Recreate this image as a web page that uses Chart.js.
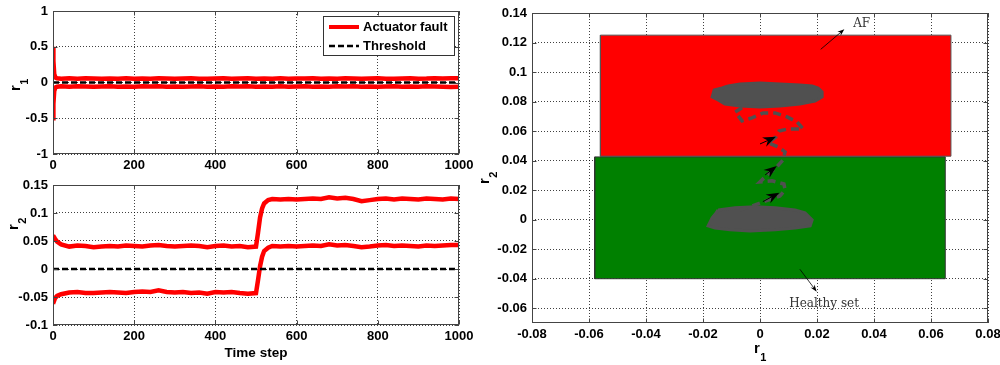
<!DOCTYPE html>
<html><head><meta charset="utf-8">
<script src="https://cdn.jsdelivr.net/npm/chart.js@4.4.0/dist/chart.umd.min.js"></script>
<style>
html,body{margin:0;padding:0;background:#fff;width:1000px;height:365px;overflow:hidden;}
canvas{position:absolute;}
</style></head><body>
<canvas id="c1" width="480" height="175" style="left:0px;top:0px"></canvas>
<canvas id="c2" width="480" height="190" style="left:0px;top:175px"></canvas>
<canvas id="c3" width="530" height="365" style="left:470px;top:0px"></canvas>
<script>
// ---------------- DATA ----------------
const seriesNames = ['Actuator fault', 'Threshold'];
const timeTitle = 'Time step';
const r1Label = ['r', '1'];
const r2Label = ['r', '2'];
const timeTicks = [0, 200, 400, 600, 800, 1000];
const r1Ticks = [-1, -0.5, 0, 0.5, 1];
const r2Ticks = [-0.1, -0.05, 0, 0.05, 0.1, 0.15];

const t1 = [0,1,3,6,10,20,40,60,80,100,120,140,160,180,200,220,240,260,280,300,320,340,360,380,400,420,440,460,480,500,520,540,560,580,600,620,640,660,680,700,720,740,760,780,800,820,840,860,880,900,920,940,960,980,1000];
const r1Upper = [0.50,0.30,0.12,0.07,0.06,
 0.052,0.058,0.054,0.060,0.055,0.051,0.057,0.054,0.059,0.052,
 0.056,0.053,0.058,0.055,0.051,0.057,0.060,0.054,0.052,0.056,
 0.058,0.053,0.055,0.059,0.052,0.056,0.054,0.058,0.053,0.057,
 0.055,0.060,0.052,0.056,0.054,0.058,0.055,0.053,0.057,0.059,
 0.054,0.052,0.056,0.058,0.053,0.055,0.060,0.057,0.061,0.058];
const r1Lower = [-0.50,-0.30,-0.12,-0.07,-0.06,
 -0.054,-0.059,-0.052,-0.057,-0.061,-0.055,-0.053,-0.058,-0.056,-0.060,
 -0.054,-0.057,-0.052,-0.059,-0.055,-0.061,-0.056,-0.053,-0.058,-0.055,
 -0.060,-0.054,-0.057,-0.052,-0.058,-0.056,-0.061,-0.054,-0.059,-0.055,
 -0.053,-0.058,-0.056,-0.060,-0.054,-0.057,-0.052,-0.059,-0.055,-0.061,
 -0.056,-0.053,-0.058,-0.055,-0.060,-0.054,-0.057,-0.059,-0.062,-0.058];

const t2 = [0,5,10,20,40,60,80,100,120,140,160,180,200,220,240,260,280,300,320,340,360,380,400,420,440,460,480,500,505,510,515,520,530,540,560,580,600,620,640,660,680,700,720,740,760,780,800,820,840,860,880,900,920,940,960,980,1000];
const r2Upper = [0.060,0.054,0.049,0.044,
 0.040,0.042,0.041,0.039,0.040,0.041,0.040,0.042,0.041,0.040,0.042,0.043,0.041,0.040,0.041,0.042,0.041,0.039,0.041,0.042,0.040,0.041,0.039,
 0.040,0.065,0.092,0.108,0.117,0.123,
 0.125,0.124,0.125,0.124,0.125,0.126,0.125,0.128,0.126,0.127,0.125,0.121,0.123,0.125,0.126,0.124,0.126,0.125,0.124,0.126,0.125,0.124,0.126,0.125];
const r2Lower = [-0.062,-0.052,-0.048,-0.045,
 -0.042,-0.041,-0.043,-0.043,-0.042,-0.041,-0.042,-0.043,-0.041,-0.040,-0.041,-0.038,-0.041,-0.042,-0.041,-0.043,-0.042,-0.044,-0.041,-0.042,-0.041,-0.043,-0.044,
 -0.043,-0.020,0.005,0.022,0.032,0.038,
 0.041,0.040,0.041,0.040,0.041,0.042,0.041,0.044,0.042,0.043,0.041,0.039,0.040,0.042,0.043,0.041,0.042,0.041,0.040,0.042,0.041,0.042,0.043,0.043];
const thresholdT = [0, 1000];
const thresholdV = [0, 0];

// right plot
const planeXTicks = [-0.08,-0.06,-0.04,-0.02,0,0.02,0.04,0.06,0.08];
const planeYTicks = [-0.06,-0.04,-0.02,0,0.02,0.04,0.06,0.08,0.1,0.12,0.14];
const afSetR1 = [-0.056, 0.067];
const afSetR2 = [0.043, 0.125];
const healthySetR1 = [-0.058, 0.065];
const healthySetR2 = [-0.040, 0.0425];
const upperBlobR1 = [-0.0112,-0.0070,0.0000,0.0070,0.0140,0.0183,0.0204,0.0218,0.0218,0.0193,0.0140,0.0070,0.0000,-0.0070,-0.0123,-0.0147,-0.0168,-0.0161,-0.0133];
const upperBlobR2 = [0.0906,0.0919,0.0926,0.0919,0.0913,0.0906,0.0892,0.0865,0.0831,0.0804,0.0784,0.0770,0.0764,0.0770,0.0784,0.0811,0.0831,0.0879,0.0892];
const lowerBlobR1 = [-0.0147,-0.0088,-0.0017,0.0053,0.0123,0.0158,0.0183,0.0176,0.0123,0.0053,-0.0035,-0.0105,-0.0158,-0.0182,-0.0168,-0.0154];
const lowerBlobR2 = [0.0066,0.0080,0.0087,0.0080,0.0066,0.0046,-0.0001,-0.0042,-0.0056,-0.0069,-0.0076,-0.0069,-0.0056,-0.0042,0.0012,0.0046];
const pathR1 = [-0.0070,-0.0028,0.0021,0.0070,0.0088,0.0084,0.0042,0.0000,0.0025,0.0056,0.0081,0.0088,0.0063,0.0028,0.0056,0.0067,0.0098,0.0151,0.0130,0.0095,0.0053,0.0011,-0.0028,-0.0063,-0.0087,-0.0052];
const pathR2 = [0.0066,0.0093,0.0127,0.0161,0.0202,0.0242,0.0263,0.0256,0.0303,0.0351,0.0405,0.0459,0.0493,0.0520,0.0561,0.0601,0.0615,0.0615,0.0662,0.0696,0.0723,0.0723,0.0689,0.0669,0.0730,0.0770];
// trajectory arrows: [fromR1, fromR2, toR1, toR2]
const pathArrows = [[0.0000,0.0513,0.0056,0.0561],[0.0018,0.0303,0.0059,0.0364],[0.0010,0.0122,0.0068,0.0183]];
// annotation arrows & texts
const annotArrows = [[0.0213,0.1154,0.0296,0.1290],[0.0140,-0.0336,0.0199,-0.0488]];
const annotTexts = ['AF', 'Healthy set'];
const annotTextR1 = [0.0327, 0.0225];
const annotTextR2 = [0.1326, -0.0570];
const annotAlign = ['left', 'center'];

// ---------------- HELPERS ----------------
const FAM = "'Liberation Sans', Arial, sans-serif";
const tickFont = {family: FAM, size: 13, weight: 'bold'};
const titleFont = {family: FAM, size: 13.5, weight: 'bold'};
const pts = (xs, ys) => xs.map((x, i) => ({x, y: ys[i]}));
const rectPts = (xr, yr) => [{x:xr[0],y:yr[0]},{x:xr[1],y:yr[0]},{x:xr[1],y:yr[1]},{x:xr[0],y:yr[1]},{x:xr[0],y:yr[0]}];
const closed = (xs, ys) => { const p = pts(xs, ys); p.push({x: xs[0], y: ys[0]}); return p; };
const fmt = v => String(Math.round(v * 1000) / 1000);
const gridCfg = {color: 'rgba(0,0,0,0.75)', lineWidth: 1, drawTicks: false};
const borderCfg = {display: false, dash: [1, 2]};

function axis(min, max, tickVals, fixed, isX, titleText, titlePad) {
  return {
    type: 'linear', min, max,
    grid: gridCfg, border: borderCfg,
    afterBuildTicks: s => { s.ticks = tickVals.map(v => ({value: v})); },
    afterFit: s => { if (isX) s.height = fixed; else s.width = fixed; s.paddingLeft = 0; s.paddingRight = 0; s.paddingTop = 0; s.paddingBottom = 0; },
    ticks: {font: tickFont, color: '#000', padding: isX ? 4 : 5, maxRotation: 0, autoSkip: false, callback: v => fmt(v)},
    title: {display: !!titleText, text: titleText || '', font: titleFont, color: '#000', padding: titlePad || 0}
  };
}

const frame = {
  id: 'frame',
  afterDatasetsDraw(chart) {
    const {ctx, chartArea: a, scales} = chart;
    ctx.save();
    ctx.strokeStyle = '#444'; ctx.lineWidth = 1;
    const L = Math.round(a.left) + 0.5, T = Math.round(a.top) + 0.5, R = Math.round(a.right) - 0.5, B = Math.round(a.bottom) - 0.5;
    ctx.strokeRect(L, T, R - L, B - T);
    ctx.beginPath();
    scales.x.ticks.forEach(t => { const p = Math.round(scales.x.getPixelForValue(t.value)) + 0.5; ctx.moveTo(p, B); ctx.lineTo(p, B - 4); ctx.moveTo(p, T); ctx.lineTo(p, T + 4); });
    scales.y.ticks.forEach(t => { const p = Math.round(scales.y.getPixelForValue(t.value)) + 0.5; ctx.moveTo(L, p); ctx.lineTo(L + 4, p); ctx.moveTo(R, p); ctx.lineTo(R - 4, p); });
    ctx.stroke();
    ctx.restore();
  }
};

// subscripted axis labels ("r" + subscript digit), MATLAB style
const subLabels = {
  id: 'subLabels',
  afterDraw(chart, args, opts) {
    const {ctx} = chart;
    (opts.items || []).forEach(it => {
      ctx.save();
      ctx.translate(it.x, it.y);
      if (it.rot) ctx.rotate(-Math.PI / 2);
      ctx.fillStyle = '#000'; ctx.textBaseline = 'alphabetic'; ctx.textAlign = 'left';
      ctx.font = 'bold 15px ' + FAM;
      ctx.fillText(it.text[0], 0, 0);
      const w = ctx.measureText(it.text[0]).width;
      ctx.font = 'bold 11px ' + FAM;
      ctx.fillText(it.text[1], w + 0.5, 8);
      ctx.restore();
    });
  }
};

const legendBox = {
  id: 'legendBox',
  afterDraw(chart) {
    const {ctx, chartArea: a} = chart;
    const x = Math.round(a.right) - 136, y = Math.round(a.top) + 5, w = 131, h = 39;
    ctx.save();
    ctx.fillStyle = '#fff'; ctx.fillRect(x, y, w, h);
    ctx.strokeStyle = '#333'; ctx.lineWidth = 1; ctx.strokeRect(x + 0.5, y + 0.5, w, h);
    ctx.font = 'bold 13px ' + FAM; ctx.textBaseline = 'middle'; ctx.fillStyle = '#000';
    ctx.strokeStyle = '#ff0000'; ctx.lineWidth = 4; ctx.setLineDash([]);
    ctx.beginPath(); ctx.moveTo(x + 6, y + 11); ctx.lineTo(x + 36, y + 11); ctx.stroke();
    ctx.fillText(seriesNames[0], x + 40, y + 11);
    ctx.strokeStyle = '#000'; ctx.lineWidth = 2.5; ctx.setLineDash([6, 3]);
    ctx.beginPath(); ctx.moveTo(x + 6, y + 30); ctx.lineTo(x + 36, y + 30); ctx.stroke();
    ctx.setLineDash([]);
    ctx.fillText(seriesNames[1], x + 40, y + 30);
    ctx.restore();
  }
};

function drawArrow(ctx, x0, y0, x1, y1, hl, hw, lw) {
  const ang = Math.atan2(y1 - y0, x1 - x0);
  ctx.lineWidth = lw;
  ctx.beginPath(); ctx.moveTo(x0, y0); ctx.lineTo(x1 - Math.cos(ang) * hl * 0.6, y1 - Math.sin(ang) * hl * 0.6); ctx.stroke();
  ctx.save(); ctx.translate(x1, y1); ctx.rotate(ang);
  ctx.beginPath(); ctx.moveTo(0, 0); ctx.lineTo(-hl, -hw / 2); ctx.lineTo(-hl * 0.68, 0); ctx.lineTo(-hl, hw / 2); ctx.closePath(); ctx.fill();
  ctx.restore();
}

const annot = {
  id: 'annot',
  afterDatasetsDraw(chart) {
    const {ctx, scales: {x, y}} = chart;
    ctx.save();
    ctx.strokeStyle = '#000'; ctx.fillStyle = '#000';
    pathArrows.forEach(a => drawArrow(ctx, x.getPixelForValue(a[0]), y.getPixelForValue(a[1]), x.getPixelForValue(a[2]), y.getPixelForValue(a[3]), 13, 10, 1));
    annotArrows.forEach(a => drawArrow(ctx, x.getPixelForValue(a[0]), y.getPixelForValue(a[1]), x.getPixelForValue(a[2]), y.getPixelForValue(a[3]), 7, 5, 0.8));
    ctx.font = "12px 'DejaVu Serif', serif"; ctx.fillStyle = '#333'; ctx.textBaseline = 'middle';
    annotTexts.forEach((t, i) => { ctx.textAlign = annotAlign[i]; ctx.fillText(t, x.getPixelForValue(annotTextR1[i]), y.getPixelForValue(annotTextR2[i])); });
    ctx.restore();
  }
};

Chart.defaults.animation = false;
Chart.defaults.events = [];
Chart.defaults.elements.point.radius = 0;
Chart.defaults.elements.line.tension = 0;
const basePlugins = {legend: {display: false}, tooltip: {enabled: false}};

// ---------------- CHART 1 ----------------
new Chart(document.getElementById('c1'), {
  type: 'line',
  data: {datasets: [
    {label: seriesNames[0], data: pts(t1, r1Upper), borderColor: '#ff0000', borderWidth: 4.5, order: 2},
    {label: '', data: pts(t1, r1Lower), borderColor: '#ff0000', borderWidth: 4.5, order: 2},
    {label: seriesNames[1], data: pts(thresholdT, thresholdV), borderColor: '#000', borderWidth: 2.5, borderDash: [6, 3], order: 1}
  ]},
  options: {
    responsive: false, maintainAspectRatio: false,
    layout: {padding: {left: 0, top: 11, right: 21, bottom: 0}},
    plugins: Object.assign({subLabels: {items: [{text: r1Label, x: 20, y: 91, rot: true}]}}, basePlugins),
    scales: {
      x: axis(0, 1000, timeTicks, 21, true),
      y: axis(-1, 1, r1Ticks, 53, false)
    }
  },
  plugins: [frame, legendBox, subLabels]
});

// ---------------- CHART 2 ----------------
new Chart(document.getElementById('c2'), {
  type: 'line',
  data: {datasets: [
    {label: seriesNames[0], data: pts(t2, r2Upper), borderColor: '#ff0000', borderWidth: 4.5, order: 2},
    {label: '', data: pts(t2, r2Lower), borderColor: '#ff0000', borderWidth: 4.5, order: 2},
    {label: seriesNames[1], data: pts(thresholdT, thresholdV), borderColor: '#000', borderWidth: 2.5, borderDash: [6, 3], order: 1}
  ]},
  options: {
    responsive: false, maintainAspectRatio: false,
    layout: {padding: {left: 0, top: 10, right: 21, bottom: 0}},
    plugins: Object.assign({subLabels: {items: [{text: r2Label, x: 18, y: 55, rot: true}]}}, basePlugins),
    scales: {
      x: axis(0, 1000, timeTicks, 40, true, timeTitle, {top: 0, bottom: 4}),
      y: axis(-0.1, 0.15, r2Ticks, 53, false)
    }
  },
  plugins: [frame, subLabels]
});

// ---------------- CHART 3 ----------------
new Chart(document.getElementById('c3'), {
  type: 'line',
  data: {datasets: [
    {label: 'AF', data: rectPts(afSetR1, afSetR2), borderColor: '#555', borderWidth: 1, backgroundColor: '#ff0000', fill: 'shape', order: 6},
    {label: 'Healthy set', data: rectPts(healthySetR1, healthySetR2), borderColor: '#333', borderWidth: 1, backgroundColor: '#008000', fill: 'shape', order: 5},
    {label: 'upper', data: closed(upperBlobR1, upperBlobR2), borderColor: '#505050', borderWidth: 3, backgroundColor: '#505050', fill: 'shape', order: 3},
    {label: 'lower', data: closed(lowerBlobR1, lowerBlobR2), borderColor: '#505050', borderWidth: 3, backgroundColor: '#505050', fill: 'shape', order: 3},
    {label: 'path', data: pts(pathR1, pathR2), borderColor: '#505050', borderWidth: 3.5, borderDash: [8, 5], fill: false, order: 2}
  ]},
  options: {
    responsive: false, maintainAspectRatio: false,
    layout: {padding: {left: 0, top: 13, right: 12, bottom: 0}},
    plugins: Object.assign({subLabels: {items: [
      {text: r1Label, x: 284, y: 353, rot: false},
      {text: r2Label, x: 19, y: 184, rot: true}
    ]}}, basePlugins),
    scales: {
      x: axis(-0.08, 0.08, planeXTicks, 42, true),
      y: axis(-0.07, 0.14, planeYTicks, 62, false)
    }
  },
  plugins: [annot, frame, subLabels]
});
</script>
</body></html>
